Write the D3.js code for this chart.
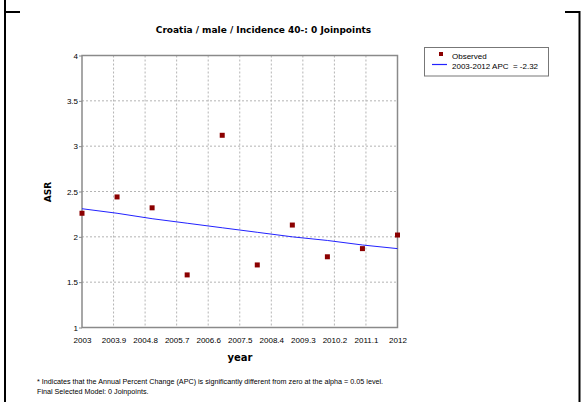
<!DOCTYPE html>
<html><head><meta charset="utf-8">
<script src="https://cdn.jsdelivr.net/npm/d3@7"></script>
<style>body{margin:0;background:#fff}svg{display:block}text{white-space:pre}</style>
</head><body>
<script>
const years = [2003,2004,2005,2006,2007,2008,2009,2010,2011,2012];
const observed = [2.26,2.44,2.32,1.58,3.12,1.69,2.13,1.78,1.87,2.02];
const fitted = [2.31,2.26,2.20,2.15,2.10,2.05,2.00,1.96,1.91,1.87];
const xTicks = [2003,2003.9,2004.8,2005.7,2006.6,2007.5,2008.4,2009.3,2010.2,2011.1,2012];
const yTicks = [1,1.5,2,2.5,3,3.5,4];
const title = "Croatia / male / Incidence 40-: 0 Joinpoints";
const legendLabels = ["Observed","2003-2012 APC  = -2.32"];
const footnotes = ["* Indicates that the Annual Percent Change (APC) is significantly different from zero at the alpha = 0.05 level.","Final Selected Model: 0 Joinpoints."];

const W=581,H=402;
const svg=d3.select("body").append("svg").attr("width",W).attr("height",H);
const L=82,R=397.5,T=55.5,B=327.5;
const x=d3.scaleLinear().domain([2003,2012]).range([L,R]);
const y=d3.scaleLinear().domain([1,4]).range([B,T]);

// outer frame
svg.append("path").attr("d","M5,0V402M4,12H20M579.5,11V402M565,12H580.5").attr("stroke","#000").attr("stroke-width",2).attr("fill","none");

// grid
const g=svg.append("g");
g.selectAll("line.gx").data(xTicks.slice(1,-1)).join("line")
 .attr("x1",d=>x(d)).attr("x2",d=>x(d)).attr("y1",T).attr("y2",B)
 .attr("stroke","#b4b4b4").attr("stroke-dasharray","2,2").attr("stroke-width",1);
g.selectAll("line.gy").data(yTicks.slice(1,-1)).join("line")
 .attr("y1",d=>y(d)).attr("y2",d=>y(d)).attr("x1",L).attr("x2",R)
 .attr("stroke","#b4b4b4").attr("stroke-dasharray","2,2").attr("stroke-width",1);

// plot frame
svg.append("rect").attr("x",L).attr("y",T).attr("width",R-L).attr("height",B-T)
 .attr("fill","none").attr("stroke","#8a8a8a").attr("stroke-width",1.5);

// axes
const xa=svg.append("g").attr("transform",`translate(0,${B})`)
 .call(d3.axisBottom(x).tickValues(xTicks).tickFormat(d=>String(+d.toFixed(1))).tickSize(0).tickPadding(10));
const ya=svg.append("g").attr("transform",`translate(${L},0)`)
 .call(d3.axisLeft(y).tickValues(yTicks).tickFormat(d=>String(d)).tickSize(3).tickPadding(1));
[xa,ya].forEach(a=>{a.select(".domain").remove();a.selectAll("text").attr("font-family","Liberation Sans, Arial, sans-serif").attr("font-size",8).attr("fill","#000");a.selectAll("line").attr("stroke","#8a8a8a");});

// fitted line
svg.append("path").datum(years.map((d,i)=>[d,fitted[i]]))
 .attr("d",d3.line().x(d=>x(d[0])).y(d=>y(d[1])))
 .attr("fill","none").attr("stroke","#2222ff").attr("stroke-width",1);

// points
svg.selectAll("rect.pt").data(years).join("rect")
 .attr("x",(d,i)=>x(d)-2.5).attr("y",(d,i)=>y(observed[i])-2.5).attr("width",5).attr("height",5)
 .attr("fill","#8b0000");

// title
svg.append("text").attr("x",263.5).attr("y",33).attr("text-anchor","middle")
 .attr("font-family","DejaVu Sans, Verdana, sans-serif").attr("font-weight","bold").attr("font-size",9)
 .text(title);

// axis titles
svg.append("text").attr("x",240).attr("y",361).attr("text-anchor","middle")
 .attr("font-family","DejaVu Sans, Verdana, sans-serif").attr("font-weight","bold").attr("font-size",10).text("year");
svg.append("text").attr("transform","translate(51,192) rotate(-90)").attr("text-anchor","middle")
 .attr("font-family","DejaVu Sans, Verdana, sans-serif").attr("font-weight","bold").attr("font-size",9).text("ASR");

// legend
svg.append("rect").attr("x",424.5).attr("y",47.5).attr("width",124).attr("height",28.5)
 .attr("fill","#fff").attr("stroke","#777").attr("stroke-width",1);
svg.append("rect").attr("x",439).attr("y",52).attr("width",4).attr("height",4).attr("fill","#8b0000");
svg.append("line").attr("x1",432).attr("x2",447).attr("y1",64.5).attr("y2",64.5).attr("stroke","#2222ff").attr("stroke-width",1.2);
svg.selectAll("text.leg").data(legendLabels).join("text").attr("x",452).attr("y",(d,i)=>59+i*9.5)
 .attr("font-family","Liberation Sans, Arial, sans-serif").attr("font-size",8).text(d=>d);

// footnotes
svg.selectAll("text.fn").data(footnotes).join("text").attr("x",37).attr("y",(d,i)=>384+i*9.5)
 .attr("font-family","Liberation Sans, Arial, sans-serif").attr("font-size",7.2).text(d=>d);
</script>
</body></html>
